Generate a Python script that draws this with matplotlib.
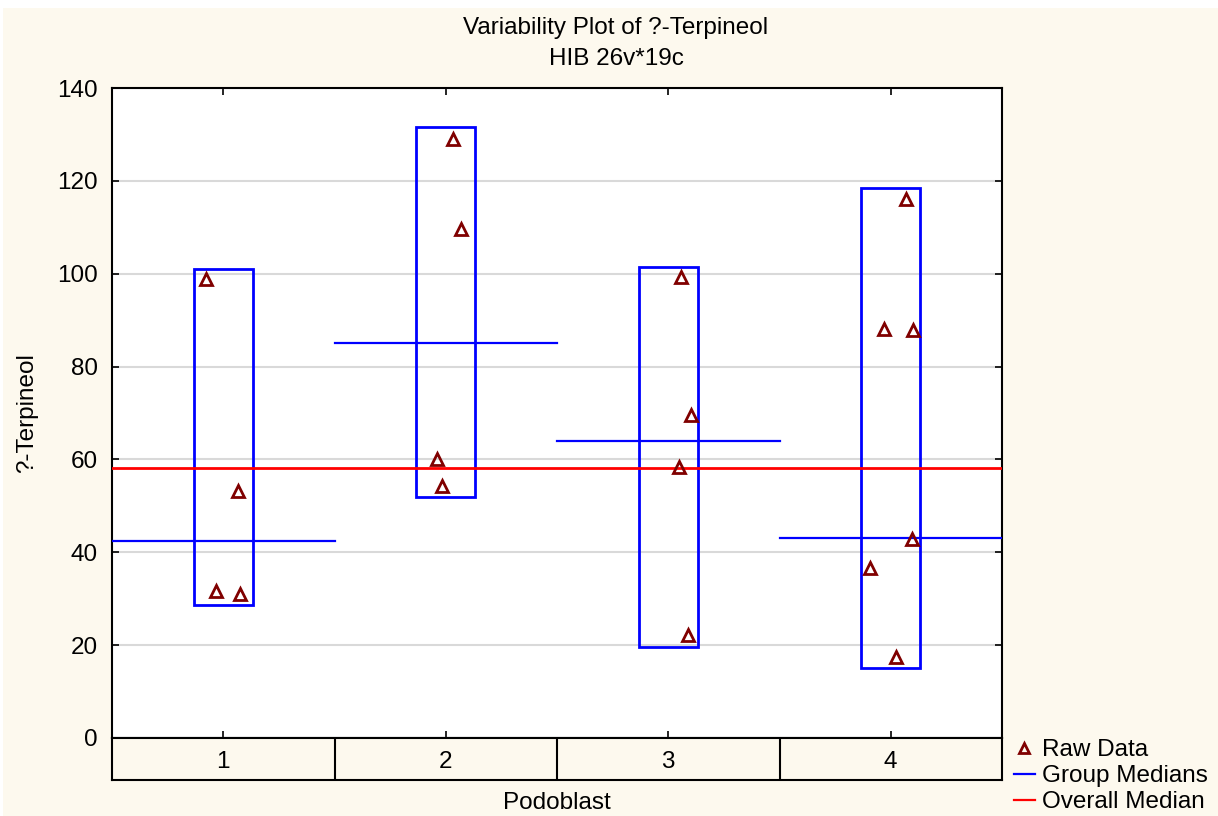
import numpy as np
import matplotlib
matplotlib.use('Agg')
import matplotlib.pyplot as plt
from matplotlib.lines import Line2D
from matplotlib.patches import Rectangle

plt.rcParams['font.family'] = ['Liberation Sans', 'DejaVu Sans']

# data
groups = ['1', '2', '3', '4']
raw_x = [[0.922, 1.066, 0.967, 1.075],
         [2.033, 2.069, 1.961, 1.983],
         [3.057, 3.102, 3.048, 3.089],
         [4.069, 3.970, 4.100, 4.096, 3.907, 4.024]]
raw_y = [[98.9, 53.2, 31.7, 31.0],
         [129.0, 109.6, 60.1, 54.3],
         [99.3, 69.6, 58.4, 22.2],
         [116.1, 88.1, 87.9, 42.9, 36.6, 17.4]]
box_low = [28.6, 51.9, 19.6, 15.1]
box_high = [101.0, 131.6, 101.4, 118.5]
group_medians = [42.5, 85.0, 64.0, 43.0]
overall_median = 58.2

W, H = 1218, 816
bg = '#fdf9ee'
fs = 17.5
fig = plt.figure(figsize=(W / 100, H / 100), dpi=100)
fig.patch.set_facecolor('white')
fig.patches.append(Rectangle((3 / W, 0), 1 - 3 / W, 1 - 8 / H, transform=fig.transFigure,
                             facecolor=bg, edgecolor='none', zorder=-10))

x0, x1, ytop, ybot = 112, 1002, 88, 738
ax = fig.add_axes([x0 / W, 1 - ybot / H, (x1 - x0) / W, (ybot - ytop) / H])
ax.set_facecolor('white')
ax.set_xlim(0.5, 4.5)
ax.set_ylim(0, 140)
ax.set_yticks(np.arange(0, 141, 20))
ax.set_xticks([1, 2, 3, 4])
ax.set_xticklabels([])
ax.tick_params(direction='in', length=5, width=1.2, labelsize=fs, top=True, right=True, pad=10)
ax.grid(axis='y', color='#d9d9d9', lw=1.5)
ax.set_axisbelow(True)
for s in ax.spines.values():
    s.set_linewidth(1.5)

hw = 0.133
for i in range(len(groups)):
    c = i + 1
    ax.add_patch(Rectangle((c - hw, box_low[i]), 2 * hw, box_high[i] - box_low[i],
                           fill=False, edgecolor='#0000ff', lw=2, zorder=3))
    ax.plot([c - 0.5, c + 0.5], [group_medians[i]] * 2, color='#0000ff', lw=1.6, zorder=3)
    ax.plot(raw_x[i], raw_y[i], ls='none', marker='^', ms=8, mfc='none', mec='#800000', mew=2, zorder=4)
ax.axhline(overall_median, color='#ff0000', lw=2, zorder=3)

# category strip
sax = fig.add_axes([x0 / W, 1 - 780 / H, (x1 - x0) / W, 42 / H])
sax.set_facecolor(bg)
sax.set_xlim(0.5, 4.5)
sax.set_ylim(0, 1)
sax.set_xticks([])
sax.set_yticks([])
for s in sax.spines.values():
    s.set_linewidth(1.5)
for i, g in enumerate(groups):
    sax.text(i + 1, 0.42, g, ha='center', va='center', fontsize=fs)
    if i > 0:
        sax.axvline(i + 0.5, color='black', lw=1.5)

fig.text(616 / W, 1 - 28 / H, 'Variability Plot of ?-Terpineol', ha='center', va='center', fontsize=fs)
fig.text(616 / W, 1 - 59 / H, 'HIB 26v*19c', ha='center', va='center', fontsize=fs)
fig.text(27 / W, 1 - 413 / H, '?-Terpineol', rotation=90, ha='center', va='center', fontsize=fs)
fig.text(557 / W, 1 - 803 / H, 'Podoblast', ha='center', va='center', fontsize=fs)

handles = [Line2D([], [], ls='none', marker='^', ms=7, mfc='none', mec='#800000', mew=2),
           Line2D([], [], color='#0000ff', lw=1.6),
           Line2D([], [], color='#ff0000', lw=1.6)]
fig.legend(handles, ['Raw Data', 'Group Medians', 'Overall Median'], loc='upper left',
           bbox_to_anchor=(1002 / W, 1 - 727 / H), frameon=False, fontsize=fs,
           handlelength=0.85, handletextpad=0.3, labelspacing=0.17, borderpad=0)

fig.savefig('out.png', dpi=100, facecolor=fig.get_facecolor())
